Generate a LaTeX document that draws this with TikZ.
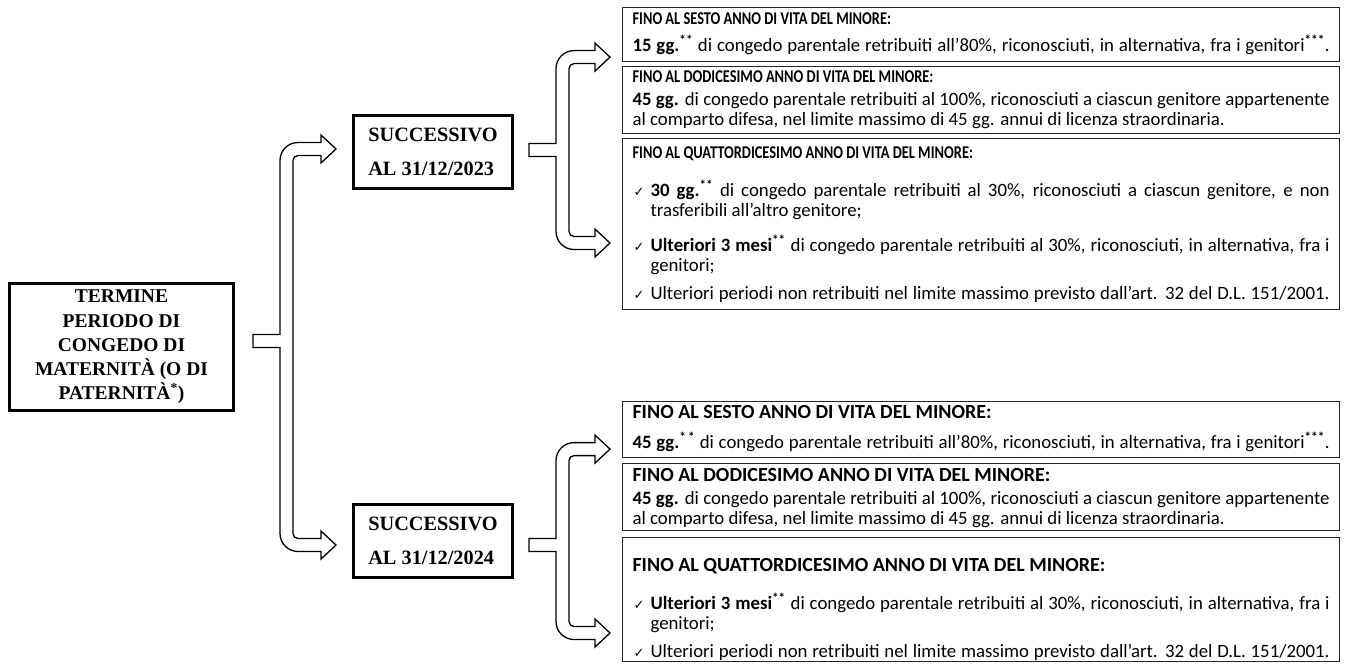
\documentclass[tikz,border=0pt]{standalone}
\usepackage{fontspec}
\setmainfont{Carlito}
\newfontfamily\titlefont[FakeStretch=0.8]{Carlito}
\newfontfamily\timesfont{Liberation Serif}
\newfontfamily\tickfont{DejaVu Sans}
\usetikzlibrary{calc}

\newcommand{\tick}{{\tickfont\fontsize{13pt}{13pt}\selectfont ✓}}
\newcommand{\stars}[1]{\textsuperscript{\textbf{#1}}}
\newcommand{\infotext}[3]{\parbox[c][#1][t]{697pt}{\vspace*{#2}\strut#3}}
\newcommand{\boxtitle}[1]{{\titlefont\fontsize{18pt}{20pt}\selectfont\bfseries #1}}
\newcommand{\boxtitlewide}[1]{{\fontsize{20pt}{20pt}\selectfont\bfseries #1}}
\newcommand{\bitem}[1]{\hspace*{1pt}\makebox[17pt][l]{\tick}#1}
\newcommand{\jfill}[1]{\makebox[\dimexpr\linewidth-18pt\relax][s]{#1}}
\newcommand{\jline}[1]{\makebox[\linewidth][s]{#1}}
% hollow fork arrow: stub point, upper tip, lower tip
\newcommand{\forkarrow}[3]{%
  \draw[forkline] let \p1=(#1), \p2=(#2), \p3=(#3) in
    (\x1,\y1+6.5pt) -- (\x1+27pt,\y1+6.5pt)
    -- (\x1+27pt,\y2-11.5pt) arc[start angle=180,end angle=90,radius=18pt]
    -- (\x2-15pt,\y2+6.5pt) -- (\x2-15pt,\y2+14pt) -- (\x2,\y2)
    -- (\x2-15pt,\y2-14pt) -- (\x2-15pt,\y2-6.5pt)
    -- (\x1+45pt,\y2-6.5pt) arc[start angle=90,end angle=180,radius=5pt]
    -- (\x1+40pt,\y3+11.5pt) arc[start angle=180,end angle=270,radius=5pt]
    -- (\x3-15pt,\y3+6.5pt) -- (\x3-15pt,\y3+14pt) -- (\x3,\y3)
    -- (\x3-15pt,\y3-14pt) -- (\x3-15pt,\y3-6.5pt)
    -- (\x1+45pt,\y3-6.5pt) arc[start angle=270,end angle=180,radius=18pt]
    -- (\x1+27pt,\y1-6.5pt) -- (\x1,\y1-6.5pt) -- cycle;
}

\begin{document}
\begin{tikzpicture}[x=1pt,y=-1pt,
    termbox/.style={draw,line width=3pt,align=center,inner sep=0pt,
      font=\timesfont\bfseries\fontsize{19.5pt}{24.3pt}\selectfont,
      minimum width=224pt,minimum height=127pt},
    datebox/.style={draw,line width=3pt,align=left,inner sep=0pt,
      font=\timesfont\bfseries\fontsize{20.3pt}{34pt}\selectfont,
      minimum width=159pt,minimum height=73pt},
    infobox/.style={draw=black!85,line width=1.1pt,anchor=north west,
      inner xsep=10pt,inner ysep=0pt,font=\fontsize{18.8pt}{20pt}\selectfont},
    forkline/.style={line width=1.3pt,fill=white}]
    \useasboundingbox (0,0) rectangle (1347,666);

    \node[termbox] (term) at (121.5,347) {TERMINE\\PERIODO DI\\CONGEDO DI\\MATERNITÀ (O DI\\PATERNITÀ\textsuperscript{*})};
    \node[datebox] (succA) at (433,152) {SUCCESSIVO\\AL 31/12/2023};
    \node[datebox] (succB) at (433,541) {SUCCESSIVO\\AL 31/12/2024};

    % dal 2024
    \node[infobox] (sestoA) at (622,7) {\infotext{54pt}{3pt}{%
        \boxtitle{FINO AL SESTO ANNO DI VITA DEL MINORE:}\\[4pt]
        \jline{\textbf{15 gg.}\stars{**} di congedo parentale retribuiti all’80\%, riconosciuti, in alternativa, fra i genitori\stars{***}.}}};
    \node[infobox] (dodiciA) at (622,66) {\infotext{67pt}{2pt}{%
        \boxtitle{FINO AL DODICESIMO ANNO DI VITA DEL MINORE:}\\[3pt]
        \jline{\textbf{45 gg.} di congedo parentale retribuiti al 100\%, riconosciuti a ciascun genitore appartenente}\\
        al comparto difesa, nel limite massimo di 45 gg. annui di licenza straordinaria.}};
    \node[infobox] (quattA) at (622,138) {\infotext{171pt}{6pt}{%
        \boxtitle{FINO AL QUATTORDICESIMO ANNO DI VITA DEL MINORE:}\\[15pt]
        \bitem{\jfill{\textbf{30 gg.}\stars{**} di congedo parentale retribuiti al 30\%, riconosciuti a ciascun genitore, e non}}\\
        \hspace*{18pt}trasferibili all’altro genitore;\\[15pt]
        \bitem{\jfill{\textbf{Ulteriori 3 mesi}\stars{**} di congedo parentale retribuiti al 30\%, riconosciuti, in alternativa, fra i}}\\
        \hspace*{18pt}genitori;\\[8pt]
        \bitem{\jfill{Ulteriori periodi non retribuiti nel limite massimo previsto dall’art. 32 del D.L. 151/2001.}}}};

    % dal 2025
    \node[infobox] (sestoB) at (622,401) {\infotext{56pt}{3pt}{%
        \boxtitlewide{FINO AL SESTO ANNO DI VITA DEL MINORE:}\\[7pt]
        \jline{\textbf{45 gg.}\stars{*\,*} di congedo parentale retribuiti all’80\%, riconosciuti, in alternativa, fra i genitori\stars{***}.}}};
    \node[infobox] (dodiciB) at (622,463) {\infotext{67pt}{4pt}{%
        \boxtitlewide{FINO AL DODICESIMO ANNO DI VITA DEL MINORE:}\\[3pt]
        \jline{\textbf{45 gg.} di congedo parentale retribuiti al 100\%, riconosciuti a ciascun genitore appartenente}\\
        al comparto difesa, nel limite massimo di 45 gg. annui di licenza straordinaria.}};
    \node[infobox] (quattB) at (622,537) {\infotext{124pt}{20pt}{%
        \boxtitlewide{FINO AL QUATTORDICESIMO ANNO DI VITA DEL MINORE:}\\[15pt]
        \bitem{\jfill{\textbf{Ulteriori 3 mesi}\stars{**} di congedo parentale retribuiti al 30\%, riconosciuti, in alternativa, fra i}}\\
        \hspace*{18pt}genitori;\\[8pt]
        \bitem{\jfill{Ulteriori periodi non retribuiti nel limite massimo previsto dall’art. 32 del D.L. 151/2001.}}}};

    % frecce
    \coordinate (forkA) at ($(term.east)+(18,-6)$);
    \coordinate (forkAup) at ($(succA.west)+(-16,-3)$);
    \coordinate (forkAdown) at ($(succB.west)+(-16,4)$);
    \forkarrow{forkA}{forkAup}{forkAdown}
    \coordinate (forkB) at ($(succA.east)+(15,-2)$);
    \coordinate (forkBup) at ($(sestoA.south west)+(-12,-5)$);
    \coordinate (forkBdown) at ($(quattA.north west)+(-12,105)$);
    \forkarrow{forkB}{forkBup}{forkBdown}
    \coordinate (forkC) at ($(succB.east)+(15,4)$);
    \coordinate (forkCup) at ($(sestoB.south west)+(-12,-9)$);
    \coordinate (forkCdown) at ($(quattB.north west)+(-12,96)$);
    \forkarrow{forkC}{forkCup}{forkCdown}
\end{tikzpicture}
\end{document}
